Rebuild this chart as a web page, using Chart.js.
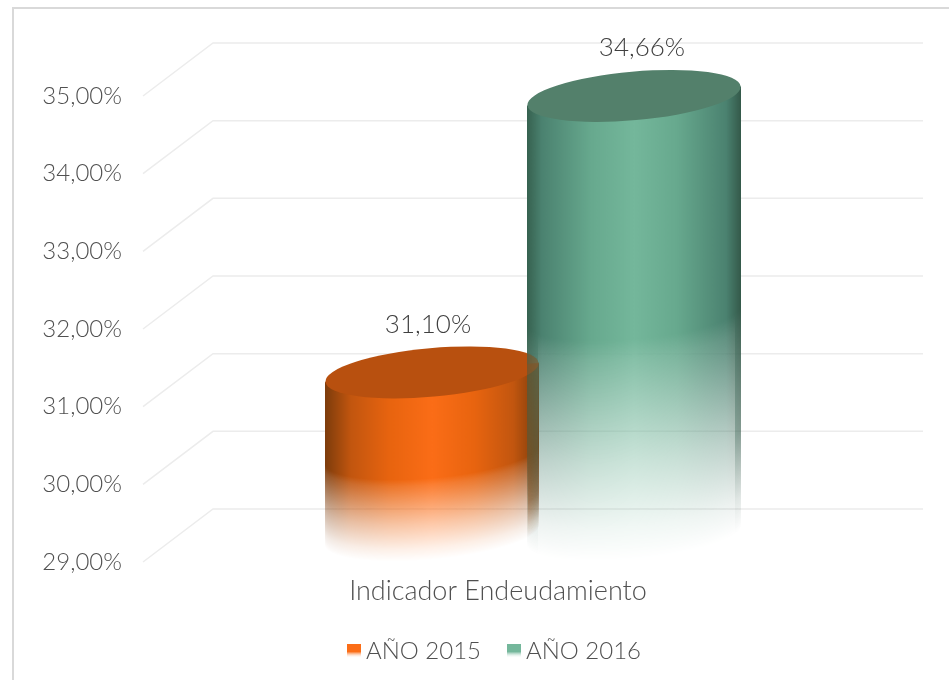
<!DOCTYPE html>
<html lang="es">
<head>
  <meta charset="UTF-8">
  <title>Indicador Endeudamiento</title>
  <script src="https://cdn.jsdelivr.net/npm/chart.js"></script>
  <style>
    * { box-sizing: border-box; }
    html, body { margin: 0; padding: 0; background: #fff; overflow: hidden; }
    #wrap { position: relative; width: 949px; height: 680px; overflow: hidden; }
    #frame { position: absolute; left: 12px; top: 7px; width: 950px; height: 700px; border: 2px solid #d9d9d9; }
    canvas { position: absolute; left: 0; top: 0; }
  </style>
</head>
<body>
<div id="wrap">
  <div id="frame"></div>
  <canvas id="chart" width="949" height="680"></canvas>
</div>

<script>
const categories = ['Indicador Endeudamiento'];
const seriesNames = ['AÑO 2015', 'AÑO 2016'];
const values2015 = [31.10];
const values2016 = [34.66];
const axisMin = 29;
const axisMax = 35;
const axisStep = 1;

const textColor = '#505050';
const fontName = 'Lato, "Open Sans", sans-serif';

// depth of the fake 3d floor
const depthX = 70;
const depthY = 53;

// side shading of each cylinder, keep = dark strips that fade slower
const looks = [
  {
    side: [[0, '#7d3c0c'], [0.12, '#c2560f'], [0.3, '#e8640f'], [0.5, '#fb6d17'], [0.7, '#e8640f'], [0.88, '#c2560f'], [1, '#7d3c0c']],
    top: '#b8500f', keep: [0, 11], labelShift: -4
  },
  {
    side: [[0, '#36614f'], [0.07, '#4b8270'], [0.3, '#67a98e'], [0.5, '#74b79b'], [0.7, '#67a98e'], [0.93, '#4b8270'], [1, '#34594a']],
    top: '#53806b', keep: [11, 6], labelShift: 8
  }
];

function percentText(v) {
  return v.toFixed(2).replace('.', ',') + '%';
}

// wider than the swatch, which sits at its right end close to the label
function legendSwatch(look) {
  const c = document.createElement('canvas');
  c.width = 38;
  c.height = 14;
  const g = c.getContext('2d');
  const grad = g.createLinearGradient(0, 0, 0, 14);
  grad.addColorStop(0, look.side[3][1]);
  grad.addColorStop(0.55, look.side[3][1]);
  grad.addColorStop(1, 'rgba(255,255,255,0)');
  g.fillStyle = grad;
  g.fillRect(24, 0, 14, 14);
  return c;
}

function drawCylinder(ctx, bar, look, baseY) {
  const w = Math.round(bar.width);
  const a = w / 2;
  const b = 24.3;
  const tilt = -5.1 * Math.PI / 180;
  const topY = bar.y - depthY / 2;
  const cx = bar.x + depthX / 2;
  const left = cx - a;
  const height = baseY - topY;

  // the body goes on its own canvas so the fade stays see-through
  const off = document.createElement('canvas');
  off.width = w;
  off.height = Math.ceil(height + b * 2 + 8);
  const o = off.getContext('2d');
  const midY = b + 4;
  const sideGrad = o.createLinearGradient(0, 0, w, 0);
  look.side.forEach(s => sideGrad.addColorStop(s[0], s[1]));
  const fadeStart = height * 0.5;

  for (let i = 0; i < w; i++) {
    const u = (i + 0.5 - a) / a;
    const arc = Math.sqrt(Math.max(0, 1 - u * u));
    const slope = Math.tan(tilt) * (i + 0.5 - a);
    const offset = slope + arc * b;
    const strip = i < look.keep[0] || i >= w - look.keep[1];
    const power = strip ? 0.5 : 1;
    const fade = o.createLinearGradient(0, midY + fadeStart + offset, 0, midY + height + offset);
    fade.addColorStop(0, 'rgba(0,0,0,1)');
    fade.addColorStop(0.08, `rgba(0,0,0,${Math.pow(0.88, power)})`);
    fade.addColorStop(0.55, `rgba(0,0,0,${Math.pow(0.38, power)})`);
    fade.addColorStop(0.85, `rgba(0,0,0,${Math.pow(0.1, power) * (strip ? 0.5 : 1)})`);
    fade.addColorStop(1, 'rgba(0,0,0,0)');
    o.fillStyle = fade;
    o.fillRect(i, midY + slope, 1, height + offset - slope);
  }
  o.globalCompositeOperation = 'source-in';
  o.fillStyle = sideGrad;
  o.fillRect(0, 0, off.width, off.height);

  ctx.drawImage(off, left, topY - midY);

  ctx.beginPath();
  ctx.ellipse(cx, topY, a, b, tilt, 0, Math.PI * 2);
  ctx.fillStyle = look.top;
  ctx.fill();
}

const cylinderPlugin = {
  id: 'cylinders',
  afterLayout(chart) {
    // legend row is not centred on the canvas in the original
    chart.legend.left += 49;
    chart.legend.right += 49;
  },
  beforeDatasetsDraw(chart) {
    const ctx = chart.ctx;
    const area = chart.chartArea;
    const yScale = chart.scales.y;
    ctx.save();
    ctx.strokeStyle = '#ececec';
    ctx.lineWidth = 1.5;
    yScale.ticks.forEach(t => {
      const y = yScale.getPixelForValue(t.value);
      ctx.beginPath();
      ctx.moveTo(area.left, y);
      ctx.lineTo(area.left + depthX, y - depthY);
      ctx.lineTo(area.right + depthX, y - depthY);
      ctx.stroke();
    });
    ctx.restore();
  },
  afterDatasetsDraw(chart) {
    const ctx = chart.ctx;
    const baseY = chart.scales.y.getPixelForValue(axisMin) - depthY / 2;
    const bars = chart.data.datasets.map((ds, i) => chart.getDatasetMeta(i).data[0]);
    drawCylinder(ctx, bars[0], looks[0], baseY);
    drawCylinder(ctx, bars[1], looks[1], baseY);

    // the 2015 cylinder shows faintly through the 2016 one where they overlap
    ctx.save();
    ctx.beginPath();
    ctx.rect(bars[1].x + depthX / 2 - bars[1].width / 2, 0, bars[1].width, chart.height);
    ctx.clip();
    ctx.globalAlpha = 0.3;
    drawCylinder(ctx, bars[0], looks[0], baseY);
    ctx.restore();

    // value labels sit above the lids
    ctx.save();
    ctx.font = '300 26px ' + fontName;
    ctx.fillStyle = '#404040';
    ctx.textAlign = 'center';
    ctx.textBaseline = 'middle';
    chart.data.datasets.forEach((ds, i) => {
      ctx.fillText(percentText(ds.data[0]), bars[i].x + depthX / 2 + looks[i].labelShift, bars[i].y - depthY / 2 - 48);
    });
    ctx.restore();
  }
};

new Chart(document.getElementById('chart'), {
  type: 'bar',
  data: {
    labels: categories,
    datasets: [
      { label: seriesNames[0], data: values2015, backgroundColor: 'rgba(0,0,0,0)', borderWidth: 0 },
      { label: seriesNames[1], data: values2016, backgroundColor: 'rgba(0,0,0,0)', borderWidth: 0 }
    ]
  },
  options: {
    responsive: false,
    animation: false,
    barPercentage: 1.059,
    categoryPercentage: 0.569,
    layout: { padding: { left: 20, right: 96, top: 96, bottom: 7 } },
    scales: {
      x: {
        afterFit(scale) { scale.height = 68; },
        grid: { display: false },
        border: { display: false },
        ticks: { color: textColor, font: { family: fontName, size: 27, weight: 300 }, padding: 5 }
      },
      y: {
        min: axisMin,
        max: axisMax,
        afterFit(scale) { scale.width = 123; },
        grid: { display: false },
        border: { display: false },
        ticks: {
          stepSize: axisStep,
          color: textColor,
          padding: 13,
          font: { family: fontName, size: 24, weight: 300 },
          callback: v => percentText(v)
        }
      }
    },
    plugins: {
      tooltip: { enabled: false },
      legend: {
        position: 'bottom',
        labels: {
          color: textColor,
          font: { family: fontName, size: 24, weight: 300 },
          usePointStyle: true,
          boxWidth: 24,
          boxHeight: 14,
          padding: 9,
          generateLabels: chart => chart.data.datasets.map((ds, i) => ({
            text: ds.label,
            fontColor: textColor,
            pointStyle: legendSwatch(looks[i]),
            datasetIndex: i,
            lineWidth: 0
          }))
        }
      }
    }
  },
  plugins: [cylinderPlugin]
});
</script>
</body>
</html>
